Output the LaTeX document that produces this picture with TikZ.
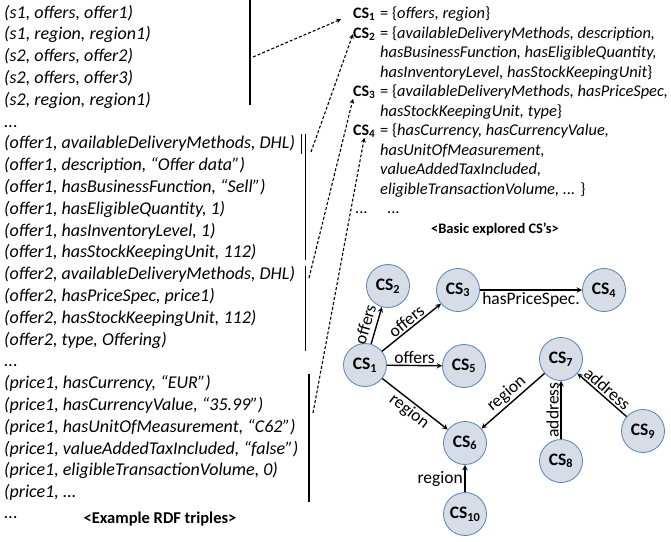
\documentclass[tikz,border=0pt]{standalone}
\usepackage{fontspec}
\setmainfont{Carlito}
\usetikzlibrary{positioning}

\definecolor{csfill}{RGB}{214,221,231}
\definecolor{csborder}{RGB}{84,130,180}

\begin{document}
\begin{tikzpicture}[x=1pt,y=-1pt,
  triple/.style={anchor=base west,inner sep=0pt,font=\fontsize{18}{21}\selectfont\itshape},
  setline/.style={anchor=base west,inner sep=0pt,font=\fontsize{16.4}{19}\selectfont},
  cslabel/.style={anchor=base west,inner sep=0pt,font=\fontsize{16}{18}\selectfont\bfseries},
  headline/.style={inner sep=0pt,anchor=base,font=\fontsize{14.5}{16}\selectfont\bfseries},
  bar/.style={line width=1.3pt},
  link/.style={dash pattern=on 3pt off 2pt,line width=1.1pt,-stealth},
  csnode/.style={circle,draw=csborder,fill=csfill,line width=0.8pt,minimum size=43pt,inner sep=0pt,font=\fontsize{17.5}{20}\selectfont\bfseries},
  rel/.style={line width=1.4pt,-stealth},
  lab/.style={font=\fontsize{17.5}{19}\selectfont,inner sep=1.5pt}
]
  \useasboundingbox (0,0) rectangle (671,541);

  % Example RDF triples
  \node[triple] (t0) at (4,18) {(s1, offers, offer1)};
  \node[triple] (t1) at (4,39.8) {(s1, region, region1)};
  \node[triple] (t2) at (4,61.6) {(s2, offers, offer2)};
  \node[triple] (t3) at (4,83.4) {(s2, offers, offer3)};
  \node[triple] (t4) at (4,105.2) {(s2, region, region1)};
  \node[triple] (t5) at (4,127) {...};
  \node[triple] (t6) at (4,148.8) {(offer1, availableDeliveryMethods, DHL)};
  \node[triple] (t7) at (4,170.6) {(offer1, description, “Offer data”)};
  \node[triple] (t8) at (4,192.4) {(offer1, hasBusinessFunction, “Sell”)};
  \node[triple] (t9) at (4,214.2) {(offer1, hasEligibleQuantity, 1)};
  \node[triple] (t10) at (4,236) {(offer1, hasInventoryLevel, 1)};
  \node[triple] (t11) at (4,257.8) {(offer1, hasStockKeepingUnit, 112)};
  \node[triple] (t12) at (4,279.6) {(offer2, availableDeliveryMethods, DHL)};
  \node[triple] (t13) at (4,301.4) {(offer2, hasPriceSpec, price1)};
  \node[triple] (t14) at (4,323.2) {(offer2, hasStockKeepingUnit, 112)};
  \node[triple] (t15) at (4,345) {(offer2, type, Offering)};
  \node[triple] (t16) at (4,366.8) {...};
  \node[triple] (t17) at (4,388.6) {(price1, hasCurrency, “EUR”)};
  \node[triple] (t18) at (4,410.4) {(price1, hasCurrencyValue, “35.99”)};
  \node[triple] (t19) at (4,432.2) {(price1, hasUnitOfMeasurement, “C62”)};
  \node[triple] (t20) at (4,454) {(price1, valueAddedTaxIncluded, “false”)};
  \node[triple] (t21) at (4,475.8) {(price1, eligibleTransactionVolume, 0)};
  \node[triple] (t22) at (4,497.6) {(price1, ...};
  \node[triple] (t23) at (4,518) {...};
  \node[headline, font=\fontsize{16.5}{18}\selectfont\bfseries] (rdftitle) at (160,523) {<Example RDF triples>};

  % Group bars
  \draw[bar] (250,0) -- (250,105);
  \draw[bar] (301.5,134) -- (301.5,154);
  \draw[bar] (305.5,134) -- (305.5,260);
  \draw[bar] (305.5,266) -- (305.5,351);
  \draw[bar] (309,374) -- (309,502);

  % Basic explored CS's
  \node[cslabel] (lcs1) at (353,18) {CS\textsubscript{1}};
  \node[setline] (s1) at (380,18) {= \{\textit{offers, region}\}};
  \node[cslabel] (lcs2) at (353,38) {CS\textsubscript{2}};
  \node[setline] (s2) at (380,38) {= \{\textit{availableDeliveryMethods, description,}};
  \node[setline] (s2b) at (380,57) {\textit{hasBusinessFunction, hasEligibleQuantity,}};
  \node[setline] (s2c) at (380,77) {\textit{hasInventoryLevel, hasStockKeepingUnit}\}};
  \node[cslabel] (lcs3) at (353,96) {CS\textsubscript{3}};
  \node[setline] (s3) at (380,96) {= \{\textit{availableDeliveryMethods, hasPriceSpec,}};
  \node[setline] (s3b) at (380,116) {\textit{hasStockKeepingUnit, type}\}};
  \node[cslabel] (lcs4) at (353,135) {CS\textsubscript{4}};
  \node[setline] (s4) at (380,135) {= \{\textit{hasCurrency, hasCurrencyValue,}};
  \node[setline] (s4b) at (380,155) {\textit{hasUnitOfMeasurement,}};
  \node[setline] (s4c) at (380,174) {\textit{valueAddedTaxIncluded,}};
  \node[setline] (s4d) at (380,194) {\textit{eligibleTransactionVolume, ... }\}};
  \node[setline] (ldots) at (355,213) {...};
  \node[setline] (sdots) at (387,213) {...};
  \node[headline] (cstitle) at (495,233) {<Basic explored CS's>};

  % Links from triples to CS's
  \coordinate (a1) at (253,57);
  \coordinate (a2) at (311,152);
  \coordinate (a3) at (309,278);
  \coordinate (a4) at (313,413);
  \draw[link, shorten >=13pt] (a1) -- (lcs1.west);
  \draw[link] (a2) -- (lcs2.west);
  \draw[link] (a3) -- (lcs3.south west);
  \draw[link] (a4) -- (lcs4.south);

  % CS graph
  \node[csnode] (cs1) at (365,365) {CS\textsubscript{1}};
  \node[csnode] (cs2) at (388,286) {CS\textsubscript{2}};
  \node[csnode] (cs3) at (458,290) {CS\textsubscript{3}};
  \node[csnode] (cs4) at (604,290) {CS\textsubscript{4}};
  \node[csnode] (cs5) at (464,366) {CS\textsubscript{5}};
  \node[csnode] (cs6) at (465,443) {CS\textsubscript{6}};
  \node[csnode] (cs7) at (561,359) {CS\textsubscript{7}};
  \node[csnode] (cs8) at (561,461) {CS\textsubscript{8}};
  \node[csnode] (cs9) at (643,431) {CS\textsubscript{9}};
  \node[csnode] (cs10) at (465,514) {CS\textsubscript{10}};

  \draw[rel] (cs1) -- node[lab, sloped, above=3pt, pos=0.45] {offers} (cs2);
  \draw[rel] (cs1) -- node[lab, sloped, above] {offers} (cs3);
  \draw[rel] (cs1) -- node[lab, above] {offers} (cs5);
  \draw[rel] (cs1) -- node[lab, sloped, below] {region} (cs6);
  \draw[rel] (cs3) -- node[lab, below] {hasPriceSpec.} (cs4);
  \draw[rel] (cs7) -- node[lab, sloped, above] {region} (cs6);
  \draw[rel] (cs8) -- node[lab, sloped, above] {address} (cs7);
  \draw[rel] (cs9) -- node[lab, sloped, above] {address} (cs7);
  \draw[rel] (cs10) -- node[lab, left] {region} (cs6);

\end{tikzpicture}
\end{document}
